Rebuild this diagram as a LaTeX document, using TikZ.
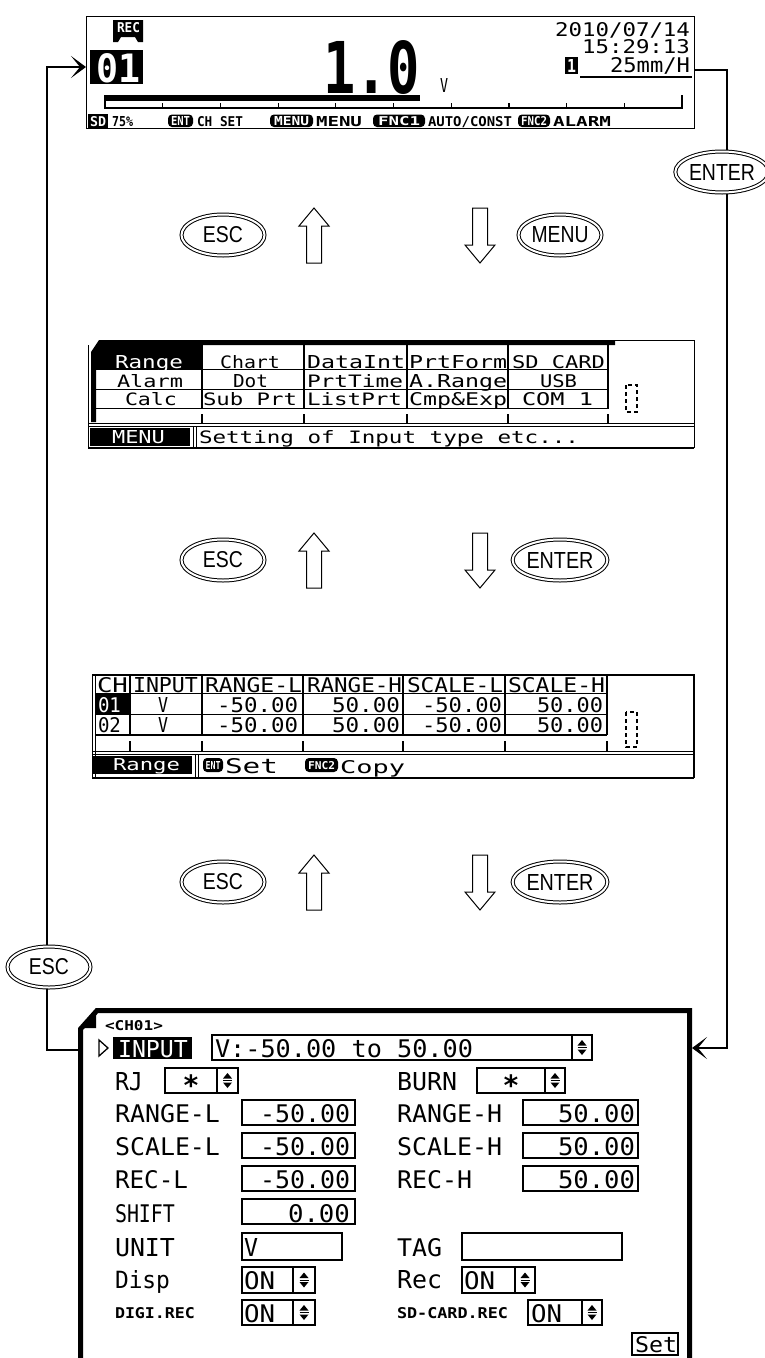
\documentclass[tikz,border=0pt]{standalone}
\usepackage{fontspec}
\usepackage{graphicx}
\usetikzlibrary{shapes.geometric,arrows.meta}
\newfontfamily\lcd{DejaVu Sans Mono}
\newfontfamily\btnfont{Liberation Sans}
\newcommand\fx[3]{\resizebox{#1pt}{#2pt}{\lcd #3}}
\newcommand\fb[3]{\resizebox{#1pt}{#2pt}{\lcd\bfseries #3}}
\newcommand\fs[3]{\resizebox{#1pt}{#2pt}{\btnfont #3}}
\newcommand\spin[2]{%
  \fill (#1-4.5,#2-2) -- (#1+4.5,#2-2) -- (#1,#2-7.5) -- cycle;
  \fill (#1-4.5,#2+2) -- (#1+4.5,#2+2) -- (#1,#2+7.5) -- cycle;
  \draw[line width=1pt] (#1-4.5,#2) -- (#1+4.5,#2);}
\newcommand\uparr[1]{\draw[hollow] (314,#1-27) -- (329,#1-9) -- (321.5,#1-9) -- (321.5,#1+28) -- (306.5,#1+28) -- (306.5,#1-9) -- (299,#1-9) -- cycle;}
\newcommand\downarr[1]{\draw[hollow] (472.5,#1-27) -- (487.5,#1-27) -- (487.5,#1+10) -- (495,#1+10) -- (480,#1+28) -- (465,#1+10) -- (472.5,#1+10) -- cycle;}
\newcommand\astx{{\lcd\bfseries\fontsize{28}{28}\selectfont\raisebox{-0.54em}[0pt][0pt]{*}}}
\begin{document}
\begin{tikzpicture}[x=1pt,y=-1pt,
  t/.style={inner sep=0pt,outer sep=0pt,anchor=base west},
  wt/.style={t,text=white},
  key/.style={ellipse,draw=black,double=white,double distance=2pt,line width=1pt,fill=white,inner sep=0pt,minimum width=83pt,minimum height=41pt},
  conn/.style={line width=2pt,-{Stealth[length=15pt,width=22pt,inset=9pt]}},
  ln/.style={line width=1.2pt},
  box/.style={draw,line width=1.5pt},
  hollow/.style={draw,line width=1pt,fill=white,line join=miter},
  scroll/.style={line width=2.5pt,dash pattern=on 4pt off 3pt},
]
\useasboundingbox (0,0) rectangle (764,1358);

% ---------- screen 1 (top) ----------
\node[draw,line width=1.2pt,minimum width=608pt,minimum height=112pt,anchor=north west,inner sep=0pt] (scr1) at (86,16) {};
\fill (113,20) -- (143,20) -- (143,42) -- (138,42) -- (135,37) -- (121,37) -- (118,42) -- (113,42) -- cycle;
\node[wt] (rec) at (117,32) {\fb{23}{10}{REC}};
\node[fill=black,minimum width=53pt,minimum height=34pt,inner sep=0pt] (ch01) at (116.5,67) {};
\node[wt] (n01) at (96,82) {\fb{44}{29}{01}};
\node[t] (big) at (323,93) {\fb{97}{53}{1.0}};
\node[t] (vu) at (440,92) {\fx{8}{14}{V}};
\node[t] (date) at (555,36.5) {\fx{135}{14}{2010/07/14}};
\node[t] (time) at (582,53) {\fx{108}{14}{15:29:13}};
\fill (565,57) rectangle (578,74);
\node[wt] (one) at (567,72.5) {\fb{9}{13}{1}};
\node[t] (speed) at (610,72) {\fx{80}{15}{25mm/H}};
\draw[ln] (580,77) -- (692,77);
\fill (105,94.5) rectangle (420,101);
\draw[ln] (105,95) -- (105,108) -- (682,108) -- (682,95);
\foreach \k in {1,...,9} \draw[ln] ({105+57.7*\k},103) -- ({105+57.7*\k},108);
\fill (88,114) rectangle (108,127.5);
\node[wt] (l1) at (90,126) {\fb{16}{10}{SD}};
\node[t] (l2) at (112,126) {\fb{21}{10}{75\%}};
\fill[rounded corners=4pt] (168,114.5) rectangle (193,127);
\node[wt] (l3) at (171,125.5) {\fb{19}{9}{ENT}};
\node[t] (l4) at (197,126) {\fb{46}{10}{CH SET}};
\fill[rounded corners=4pt] (270,114.5) rectangle (313,127);
\node[wt] (l5) at (274,125.5) {\fb{35}{9}{MENU}};
\node[t] (l6) at (316,126) {\fb{46}{10}{MENU}};
\fill[rounded corners=4pt] (373,114.5) rectangle (425,127);
\node[wt] (l7) at (378,125.5) {\fb{42}{9}{FNC1}};
\node[t] (l8) at (428,126) {\fb{84}{10}{AUTO/CONST}};
\fill[rounded corners=4pt] (518,114.5) rectangle (550,127);
\node[wt] (l9) at (521,125.5) {\fb{26}{9}{FNC2}};
\node[t] (l10) at (553,126) {\fb{58}{10}{ALARM}};

% ---------- screen 2 (menu) ----------
\draw[line width=1pt] (615,340.5) -- (694,340.5) -- (694,448);
\draw[line width=1pt] (88,345) -- (88,448);
\fill (91,352) -- (99,340) -- (615,340) -- (615,345) -- (96,345) -- (96,422) -- (91,422) -- cycle;
\fill (96,345) rectangle (202,369.5);
\foreach \yy in {369.5,389.5,408.5} \draw[ln] (96,\yy) -- (608,\yy);
\foreach \xx in {202,304,407,508,608} {\draw[ln] (\xx,345) -- (\xx,409); \draw[ln] (\xx,414) -- (\xx,423);}
\draw[line width=1pt] (88,423.5) -- (694,423.5);
\draw[line width=1pt] (88,426.5) -- (694,426.5);
\draw[ln] (88,448) -- (694,448);
\fill (90,428) rectangle (190,446);
\draw[line width=1pt] (193,427) -- (193,448);
\draw[line width=1pt] (196.5,427) -- (196.5,448);
\draw[scroll] (626,385) rectangle (637,412);
\node[wt] (m1) at (115,368) {\fx{68}{13}{Range}};
\node[t] (m2) at (220,368) {\fx{60}{13}{Chart}};
\node[t] (m3) at (307,368) {\fx{98}{13}{DataInt}};
\node[t] (m4) at (409,368) {\fx{98}{13}{PrtForm}};
\node[t] (m5) at (512,368) {\fx{93}{13}{SD CARD}};
\node[t] (m6) at (117,387) {\fx{66}{13}{Alarm}};
\node[t] (m7) at (233,387) {\fx{35}{13}{Dot}};
\node[t] (m8) at (307,387) {\fx{96}{13}{PrtTime}};
\node[t] (m9) at (409,387) {\fx{98}{13}{A.Range}};
\node[t] (m10) at (540,387) {\fx{37}{13}{USB}};
\node[t] (m11) at (125,405) {\fx{52}{13}{Calc}};
\node[t] (m12) at (203,405) {\fx{94}{13}{Sub Prt}};
\node[t] (m13) at (307,405) {\fx{95}{13}{ListPrt}};
\node[t] (m14) at (409,405) {\fx{98}{13}{Cmp\&Exp}};
\node[t] (m15) at (522,405) {\fx{71}{13}{COM 1}};
\node[wt] (m16) at (112,443) {\fx{53}{13}{MENU}};
\node[t] (m17) at (199,443) {\fx{380}{13}{Setting of Input type etc...}};

% ---------- screen 3 (range table) ----------
\draw[line width=1pt] (92,675) -- (92,778);
\draw[line width=1pt] (95.5,675) -- (95.5,778);
\draw[ln] (92,675) -- (694,675) -- (694,778);
\foreach \yy in {693.5,714.5,735} \draw[ln] (95,\yy) -- (607,\yy);
\fill (96,694) rectangle (130,714.5);
\foreach \xx in {130,202,303,403,505,607} {\draw[line width=1.5pt] (\xx,675) -- (\xx,735); \draw[ln] (\xx,741) -- (\xx,751);}
\draw[line width=1pt] (92,751) -- (694,751);
\draw[line width=1pt] (92,754.5) -- (694,754.5);
\draw[ln] (92,778) -- (694,778);
\fill (93,755.5) rectangle (192,774);
\draw[line width=1pt] (195,755) -- (195,778);
\draw[line width=1pt] (198.5,755) -- (198.5,778);
\draw[scroll] (626,712) rectangle (637,747);
\node[t] (h1) at (97,692) {\fx{31}{15}{CH}};
\node[t] (h2) at (133,692) {\fx{65}{15}{INPUT}};
\node[t] (h3) at (205,692) {\fx{97}{15}{RANGE-L}};
\node[t] (h4) at (307,692) {\fx{95}{15}{RANGE-H}};
\node[t] (h5) at (407,692) {\fx{96}{15}{SCALE-L}};
\node[t] (h6) at (508,692) {\fx{97}{15}{SCALE-H}};
\node[wt] (r11) at (98,712) {\fx{23}{15}{01}};
\node[t] (r12) at (158,712) {\fx{10}{15}{V}};
\node[t] (r13) at (217,712) {\fx{81}{15}{-50.00}};
\node[t] (r14) at (332,712) {\fx{68}{15}{50.00}};
\node[t] (r15) at (422,712) {\fx{80}{15}{-50.00}};
\node[t] (r16) at (537,712) {\fx{66}{15}{50.00}};
\node[t] (r21) at (98,732) {\fx{23}{15}{02}};
\node[t] (r22) at (158,732) {\fx{10}{15}{V}};
\node[t] (r23) at (217,732) {\fx{81}{15}{-50.00}};
\node[t] (r24) at (332,732) {\fx{68}{15}{50.00}};
\node[t] (r25) at (422,732) {\fx{80}{15}{-50.00}};
\node[t] (r26) at (537,732) {\fx{66}{15}{50.00}};
\node[wt] (s1) at (113,770) {\fx{67}{12}{Range}};
\fill[rounded corners=4pt] (203,758) rectangle (223,772);
\node[wt] (s2) at (205.5,769) {\fb{15}{8}{ENT}};
\node[t] (s3) at (225,773) {\fx{53}{15}{Set}};
\fill[rounded corners=4pt] (305,758) rectangle (338,772);
\node[wt] (s4) at (308,769) {\fb{27}{8}{FNC2}};
\node[t] (s5) at (340,773) {\fx{65}{13}{Copy}};

% ---------- screen 4 (channel setting) ----------
\draw[line width=5pt] (80.5,1358) -- (80.5,1029) -- (97,1010.5) -- (689.5,1010.5) -- (689.5,1358);
\fill (83,1028) -- (96,1028) -- (96,1013) -- cycle;
\coordinate (s4L) at (78,1050);
\coordinate (s4R) at (692,1048);
\node[t] (b0) at (105,1030) {\fb{58}{10}{<CH01>}};
\draw[line width=1.3pt] (99,1040) -- (108,1048) -- (99,1056) -- cycle;
\fill (113,1037) rectangle (192,1059);
\node[wt] (b1) at (118,1057) {\fx{70}{17}{INPUT}};
\draw[box] (212,1035) rectangle (592,1060); \draw[box] (572,1035) -- (572,1060);
\node[t] (b2) at (215,1057) {\fx{258}{18}{V:-50.00 to 50.00}};
\spin{582}{1047.5}
\node[t] (b3) at (115,1090) {\fx{28}{18}{RJ}};
\draw[box] (165,1068) rectangle (238,1093); \draw[box] (217,1068) -- (217,1093);
\node[inner sep=0pt] (b4) at (191,1080.5) {\astx};
\spin{227.5}{1080.5}
\node[t] (b5) at (397,1090) {\fx{60}{18}{BURN}};
\draw[box] (477,1068) rectangle (565,1093); \draw[box] (545,1068) -- (545,1093);
\node[inner sep=0pt] (b6) at (511,1080.5) {\astx};
\spin{555}{1080.5}
\node[t] (b7) at (115,1122) {\fx{105}{18}{RANGE-L}};
\draw[box] (242,1100) rectangle (355,1125);
\node[t] (b8) at (260,1122) {\fx{90}{18}{-50.00}};
\node[t] (b9) at (397,1122) {\fx{105}{18}{RANGE-H}};
\draw[box] (523,1100) rectangle (638,1125);
\node[t] (b10) at (558,1122) {\fx{77}{18}{50.00}};
\node[t] (b11) at (115,1155) {\fx{105}{18}{SCALE-L}};
\draw[box] (242,1133) rectangle (355,1158);
\node[t] (b12) at (260,1155) {\fx{90}{18}{-50.00}};
\node[t] (b13) at (397,1155) {\fx{105}{18}{SCALE-H}};
\draw[box] (523,1133) rectangle (638,1158);
\node[t] (b14) at (558,1155) {\fx{77}{18}{50.00}};
\node[t] (b15) at (115,1188) {\fx{73}{18}{REC-L}};
\draw[box] (242,1166) rectangle (355,1191);
\node[t] (b16) at (260,1188) {\fx{90}{18}{-50.00}};
\node[t] (b17) at (397,1188) {\fx{75}{18}{REC-H}};
\draw[box] (523,1166) rectangle (638,1191);
\node[t] (b18) at (558,1188) {\fx{77}{18}{50.00}};
\node[t] (b19) at (115,1222) {\fx{60}{18}{SHIFT}};
\draw[box] (242,1199) rectangle (355,1224);
\node[t] (b20) at (288,1222) {\fx{62}{18}{0.00}};
\node[t] (b21) at (115,1256) {\fx{60}{18}{UNIT}};
\draw[box] (242,1233) rectangle (342,1260);
\node[t] (b22) at (244,1256) {\fx{14}{18}{V}};
\node[t] (b23) at (397,1256) {\fx{45}{18}{TAG}};
\draw[box] (462,1233) rectangle (622,1260);
\node[t] (b24) at (115,1288) {\fx{55}{18}{Disp}};
\draw[box] (242,1267) rectangle (315,1293); \draw[box] (293,1267) -- (293,1293);
\node[t] (b25) at (244,1289) {\fx{31}{18}{ON}};
\spin{304}{1280}
\node[t] (b26) at (397,1288) {\fx{45}{18}{Rec}};
\draw[box] (462,1267) rectangle (535,1293); \draw[box] (515,1267) -- (515,1293);
\node[t] (b27) at (464,1289) {\fx{31}{18}{ON}};
\spin{525}{1280}
\node[t] (b28) at (115,1318) {\fb{80}{11}{DIGI.REC}};
\draw[box] (242,1300) rectangle (315,1325); \draw[box] (293,1300) -- (293,1325);
\node[t] (b29) at (244,1322) {\fx{31}{18}{ON}};
\spin{304}{1312.5}
\node[t] (b30) at (397,1318) {\fb{111}{11}{SD-CARD.REC}};
\draw[box] (528,1300) rectangle (602,1325); \draw[box] (582,1300) -- (582,1325);
\node[t] (b31) at (531,1322) {\fx{31}{18}{ON}};
\spin{592}{1312.5}
\draw[box] (632,1333) rectangle (678,1355);
\node[t] (b32) at (635,1352) {\fx{42}{16}{Set}};

% ---------- connectors ----------
\coordinate (lx) at (47,1050);
\coordinate (rx) at (727,1048);
\draw[conn] (s4L) -- (lx) |- (scr1.west |- ch01);
\draw[conn] (scr1.east |- 0,70) -| (rx) -- (s4R);

% ---------- keys and arrows ----------
\node[key] (enterR) at (722,172) {\fs{66}{16}{ENTER}};
\node[key] (escL) at (49,967) {\fs{40}{16}{ESC}};

\node[key] (esc1) at (223,235) {\fs{40}{16}{ESC}};
\node[key] (menu1) at (560,235) {\fs{57}{16}{MENU}};
\uparr{235} \downarr{235}

\node[key] (esc2) at (223,560) {\fs{40}{16}{ESC}};
\node[key] (ent2) at (560,560) {\fs{67}{16}{ENTER}};
\uparr{560} \downarr{560}

\node[key] (esc3) at (223,882) {\fs{40}{16}{ESC}};
\node[key] (ent3) at (560,882) {\fs{67}{16}{ENTER}};
\uparr{882} \downarr{882}
\end{tikzpicture}
\end{document}
